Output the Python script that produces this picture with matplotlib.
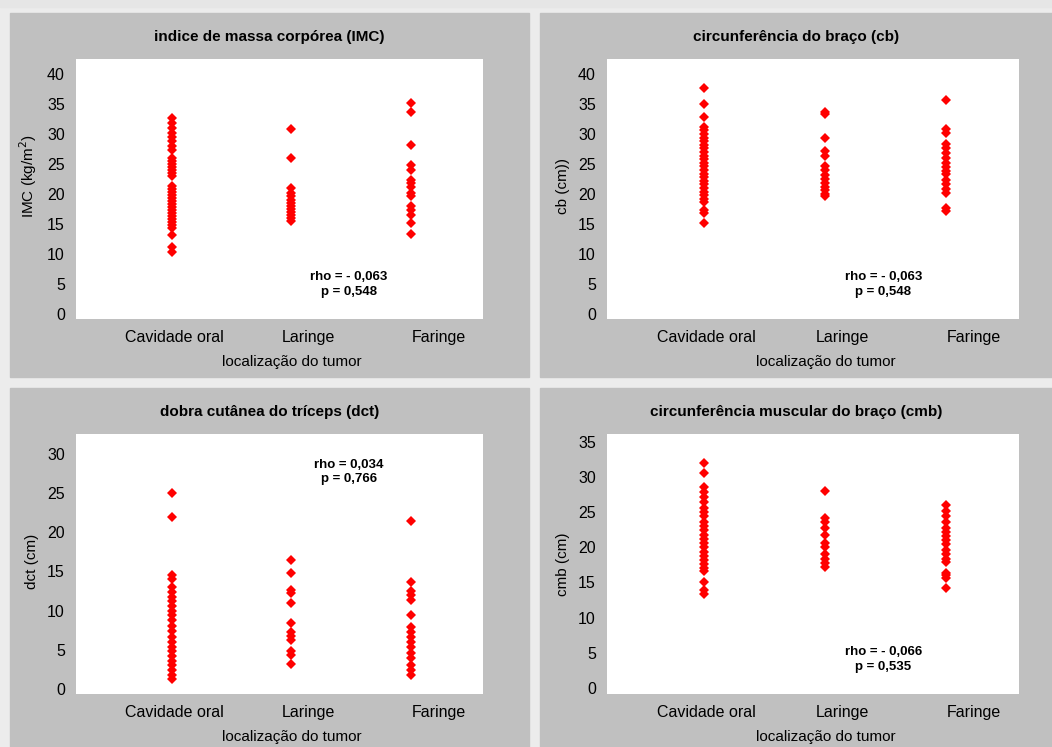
import matplotlib
matplotlib.use('Agg')
import matplotlib.pyplot as plt
from matplotlib.patches import Rectangle

plt.rcParams['font.family'] = ['Liberation Sans Narrow', 'Liberation Sans', 'DejaVu Sans']

# categories and tick labels
categorias = ['Cavidade oral', 'Laringe', 'Faringe']
pos_cat = [1, 2, 3]
pos_rotulo = [1.02, 2.14, 3.23]   # the labels sit a bit off the point columns

# IMC (kg/m2)
imc_cav = [32.6, 31.8, 31.0, 30.2, 29.5, 28.8, 28.0, 27.3, 26.0, 25.5, 25.0, 24.5,
           24.0, 23.5, 23.0, 21.3, 20.8, 20.3, 19.8, 19.3, 18.8, 18.3, 17.8, 17.3,
           16.8, 16.3, 15.8, 15.3, 14.8, 14.4, 13.2, 11.2, 10.4]
imc_lar = [30.8, 26.0, 21.0, 20.2, 19.6, 19.0, 18.5, 18.0, 17.5, 17.0, 16.5, 16.0, 15.5]
imc_far = [35.2, 33.7, 28.2, 24.9, 24.0, 22.4, 21.8, 21.2, 20.2, 19.6, 18.0, 17.4,
           16.5, 15.2, 13.4]

# circunferencia do braco (cm)
cb_cav = [37.6, 35.0, 32.8, 31.2, 30.6, 30.0, 29.4, 28.8, 28.2, 27.6, 27.0, 26.4,
          25.8, 25.2, 24.6, 24.0, 23.4, 22.8, 22.2, 21.6, 21.0, 20.4, 19.8, 19.2,
          18.6, 17.4, 16.8, 15.2]
cb_lar = [33.6, 33.4, 29.3, 27.2, 26.3, 24.7, 24.0, 23.2, 22.5, 21.8, 21.2, 20.6,
          20.0, 19.6]
cb_far = [35.6, 30.8, 30.1, 28.3, 27.6, 26.8, 26.0, 25.2, 24.5, 23.8, 23.4, 22.3,
          21.6, 20.8, 20.1, 17.6, 17.1]

# dobra cutanea do triceps (cm)
dct_cav = [25.0, 21.9, 14.6, 14.0, 13.0, 12.4, 11.8, 11.2, 10.6, 10.0, 9.4, 8.8,
           8.0, 7.4, 6.6, 6.0, 5.4, 4.8, 4.2, 3.6, 3.0, 2.4, 1.8, 1.3]
dct_lar = [16.5, 14.8, 12.6, 12.3, 11.0, 8.4, 7.3, 6.8, 6.2, 4.9, 4.3, 3.2]
dct_far = [21.5, 13.6, 12.5, 12.0, 11.4, 9.5, 7.9, 7.3, 6.6, 6.0, 5.3, 4.6, 3.9,
           3.0, 2.4, 1.8]

# circunferencia muscular do braco (cm)
cmb_cav = [32.0, 30.6, 28.5, 27.8, 27.2, 26.4, 25.6, 25.0, 24.4, 23.6, 23.0, 22.4,
           21.8, 21.2, 20.6, 20.0, 19.4, 18.8, 18.2, 17.6, 17.0, 16.6, 15.0, 14.0, 13.3]
cmb_lar = [28.0, 24.2, 23.6, 22.7, 21.8, 20.6, 20.1, 19.0, 18.3, 17.8, 17.2]
cmb_far = [26.0, 25.2, 24.4, 23.6, 22.8, 22.2, 21.6, 21.0, 20.4, 19.6, 19.0, 18.4,
           17.9, 16.4, 16.0, 15.6, 14.2]

titulos = ['indice de massa corpórea (IMC)', 'circunferência do braço (cb)',
           'dobra cutânea do tríceps (dct)', 'circunferência muscular do braço (cmb)']
ylabels = ['IMC (kg/m$^2$)', 'cb (cm))', 'dct (cm)', 'cmb (cm)']
textos = ['rho = - 0,063\np = 0,548', 'rho = - 0,063\np = 0,548',
          'rho = 0,034\np = 0,766', 'rho = - 0,066\np = 0,535']
dados = [(imc_cav, imc_lar, imc_far), (cb_cav, cb_lar, cb_far),
         (dct_cav, dct_lar, dct_far), (cmb_cav, cmb_lar, cmb_far)]
ymax = [40, 40, 30, 35]
ylims = [(-0.83, 42.5), (-0.83, 42.5), (-0.64, 32.55), (-0.85, 36.1)]
texto_y = [4.9, 4.9, 27.7, 4.1]
ylab_y = [0.55, 0.51, 0.51, 0.5]

W, H = 1052, 747
fig = plt.figure(figsize=(W/100, H/100), dpi=100)
fig.patch.set_facecolor('#ececec')

def fr(x0, y0, x1, y1):
    # pixel box (top-left origin) -> figure fraction
    return [x0/W, 1 - y1/H, (x1-x0)/W, (y1-y0)/H]

# top strip
fig.patches.append(Rectangle((0, 1-7/H), 1, 7/H, transform=fig.transFigure,
                             color='#e6e6e6', zorder=-5))
# gray panels
paineis = [(10, 13, 529, 377), (540, 13, 1052, 377),
           (10, 388, 529, 747), (540, 388, 1052, 747)]
eixos = [(76, 59, 483, 319), (607, 59, 1019, 319),
         (76, 434, 483, 694), (607, 434, 1019, 694)]

for i in range(4):
    px = fr(*paineis[i])
    fig.patches.append(Rectangle((px[0], px[1]), px[2], px[3],
                                 transform=fig.transFigure, color='#c0c0c0', zorder=-5))
    ax = fig.add_axes(fr(*eixos[i]))
    ax.set_facecolor('white')
    for s in ax.spines.values():
        s.set_visible(False)
    for k in range(3):
        ax.plot([pos_cat[k]]*len(dados[i][k]), dados[i][k], 'D', color='#ff0000',
                markersize=4.8, markeredgewidth=0)
    ax.set_xlim(0.2, 3.6)
    ax.set_ylim(*ylims[i])
    ax.set_yticks(range(0, ymax[i]+1, 5))
    ax.set_xticks(pos_rotulo)
    ax.set_xticklabels(categorias)
    ax.tick_params(length=0, labelsize=11.5, pad=8)
    ax.set_ylabel(ylabels[i], fontsize=11, labelpad=6)
    ax.yaxis.set_label_coords(-0.09, ylab_y[i])
    ax.set_xlabel('localização do tumor', fontsize=11, labelpad=4)
    ax.xaxis.set_label_coords(0.53, -0.14)
    ax.text(2.48, texto_y[i], textos[i], ha='center', va='center',
            fontsize=9.5, fontweight='bold', linespacing=1.3)
    cx = (paineis[i][0] + min(paineis[i][2], 1052)) / 2 / W
    cy = 1 - (paineis[i][1] + 24) / H
    fig.text(cx, cy, titulos[i], ha='center', va='center', fontsize=11,
             fontweight='bold')

fig.savefig('out.png', dpi=100)
